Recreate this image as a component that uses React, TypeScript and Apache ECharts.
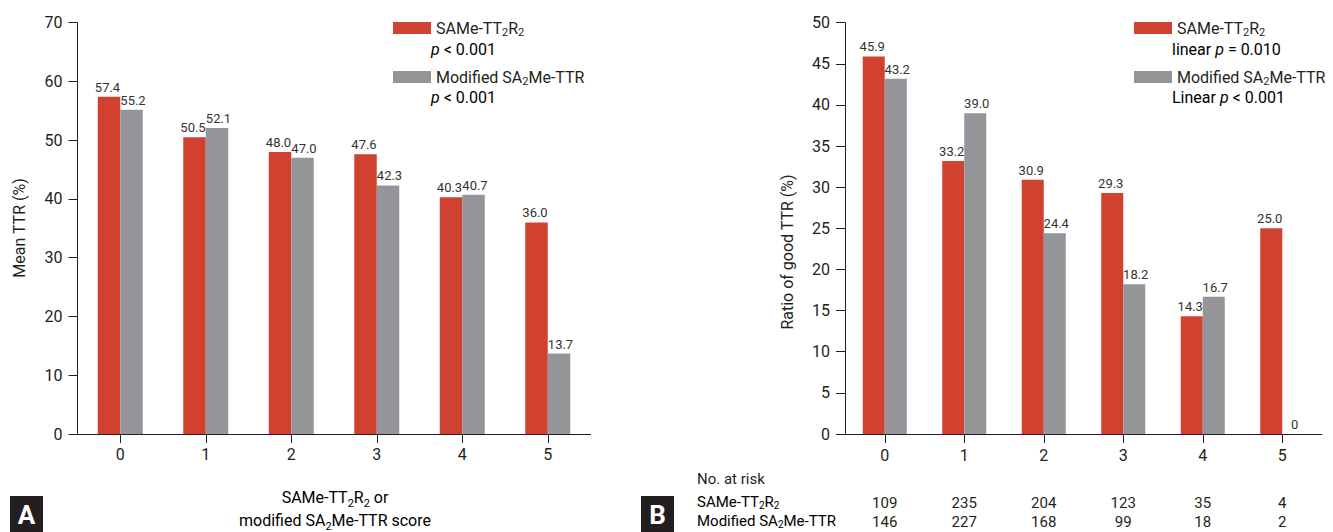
import React, { useEffect, useRef } from "react";
import * as echarts from "echarts";

const categories = ["0", "1", "2", "3", "4", "5"];
const meanSAMe = [57.4, 50.5, 48.0, 47.6, 40.3, 36.0];
const meanModified = [55.2, 52.1, 47.0, 42.3, 40.7, 13.7];
const goodSAMe = [45.9, 33.2, 30.9, 29.3, 14.3, 25.0];
const goodModified = [43.2, 39.0, 24.4, 18.2, 16.7, 0];
const riskSAMe = [109, 235, 204, 123, 35, 4];
const riskModified = [146, 227, 168, 99, 18, 2];
const seriesNames = ["SAMe-TT2R2", "Modified SA2Me-TTR"];

const RED = "#D1412F";
const GRAY = "#939598";
const INK = "#231F20";
const FONT = "Roboto, 'Noto Sans', sans-serif";

function richSet(size: number, lh: number) {
  return {
    a: { fontSize: size, fontFamily: FONT, color: INK, lineHeight: lh },
    s: { fontSize: Math.round(size * 0.68), fontFamily: FONT, color: INK, lineHeight: Math.round(size * 0.75), verticalAlign: "bottom" },
    i: { fontSize: size, fontFamily: FONT, color: INK, lineHeight: lh, fontStyle: "italic" },
  };
}
const richBase = richSet(16, 20);

const legendRich: Record<string, string> = {
  "SAMe-TT2R2": "{a|SAMe-TT}{s|2}{a|R}{s|2}",
  "Modified SA2Me-TTR": "{a|Modified SA}{s|2}{a|Me-TTR}",
};

function valueLabel(p: any) {
  const v = p.value as number;
  return v === 0 ? "0" : v.toFixed(1);
}

export default function App() {
  const ref = useRef<HTMLDivElement>(null);
  useEffect(() => {
    if (!ref.current) return;
    const chart = echarts.init(ref.current, undefined, { renderer: "svg" });

    const axisLine = { show: true, lineStyle: { color: INK, width: 1 } };
    const axisTick = { show: true, length: 9, lineStyle: { color: INK, width: 1 } };
    const yLabel = { fontSize: 16, fontFamily: FONT, color: INK, margin: 15 };

    const barLabel = (dx: number) => ({
      show: true,
      position: "top" as const,
      distance: 3,
      offset: [dx, 0],
      fontSize: 13,
      fontFamily: FONT,
      color: "#333",
      formatter: valueLabel,
    });

    const legendBase = {
      data: seriesNames,
      orient: "vertical" as const,
      top: 13,
      itemWidth: 38,
      itemHeight: 12,
      itemGap: 29,
      icon: "rect",
      selectedMode: false,
      formatter: (n: string) => legendRich[n],
      textStyle: { rich: richBase, lineHeight: 20, fontSize: 16 },
    };

    const tableRich = richSet(15, 18);

    const option: any = {
      animation: false,
      backgroundColor: "#fff",
      legend: [
        { ...legendBase, left: 388 },
        { ...legendBase, left: 1129 },
      ],
      grid: [
        { left: 77.5, top: 22.7, width: 513, bottom: 98, containLabel: false },
        { left: 845, top: 22.7, width: 477, bottom: 98, containLabel: false },
      ],
      xAxis: [
        {
          type: "category",
          gridIndex: 0,
          data: categories,
          axisLine,
          axisTick: { ...axisTick, alignWithLabel: true },
          axisLabel: { fontSize: 16, fontFamily: FONT, color: INK, margin: 12 },
        },
        {
          type: "category",
          gridIndex: 1,
          data: categories,
          axisLine,
          axisTick: { ...axisTick, alignWithLabel: true },
          axisLabel: {
            margin: 10,
            formatter: (v: string, i: number) =>
              `{t|${v}}\n{h| }\n{n|${riskSAMe[i]}}\n{m|${riskModified[i]}}`,
            rich: {
              t: { fontSize: 16, fontFamily: FONT, color: INK, lineHeight: 22 },
              h: { fontSize: 15, fontFamily: FONT, color: INK, lineHeight: 28 },
              n: { fontSize: 15, fontFamily: FONT, color: INK, lineHeight: 18 },
              m: { fontSize: 15, fontFamily: FONT, color: INK, lineHeight: 20 },
            },
          },
        },
      ],
      yAxis: [
        {
          type: "value",
          gridIndex: 0,
          min: 0,
          max: 70,
          interval: 10,
          axisLine,
          axisTick,
          splitLine: { show: false },
          axisLabel: yLabel,
        },
        {
          type: "value",
          gridIndex: 1,
          min: 0,
          max: 50,
          interval: 5,
          axisLine,
          axisTick,
          splitLine: { show: false },
          axisLabel: yLabel,
        },
      ],
      series: [
        {
          name: seriesNames[0],
          type: "bar",
          xAxisIndex: 0,
          yAxisIndex: 0,
          data: meanSAMe,
          barWidth: 22.5,
          barGap: "0%",
          itemStyle: { color: RED },
          label: barLabel(-1.5),
        },
        {
          name: seriesNames[1],
          type: "bar",
          xAxisIndex: 0,
          yAxisIndex: 0,
          data: meanModified,
          barWidth: 22.5,
          barGap: "0%",
          itemStyle: { color: GRAY },
          label: barLabel(1.5),
        },
        {
          name: seriesNames[0],
          type: "bar",
          xAxisIndex: 1,
          yAxisIndex: 1,
          data: goodSAMe,
          barWidth: 22,
          barGap: "0%",
          itemStyle: { color: RED },
          label: barLabel(-1.5),
        },
        {
          name: seriesNames[1],
          type: "bar",
          xAxisIndex: 1,
          yAxisIndex: 1,
          data: goodModified,
          barWidth: 22,
          barGap: "0%",
          itemStyle: { color: GRAY },
          label: barLabel(1.5),
        },
      ],
      graphic: [
        // p-value lines under legend names
        { type: "text", left: 431, top: 41, style: { text: "{i|p}{a| < 0.001}", rich: richBase } },
        { type: "text", left: 431, top: 89, style: { text: "{i|p}{a| < 0.001}", rich: richBase } },
        { type: "text", left: 1172, top: 41, style: { text: "{a|linear }{i|p}{a| = 0.010}", rich: richBase } },
        { type: "text", left: 1172, top: 89, style: { text: "{a|Linear }{i|p}{a| < 0.001}", rich: richBase } },
        // y-axis titles
        {
          type: "text",
          x: 19,
          y: 228,
          rotation: Math.PI / 2,
          style: { text: "Mean TTR (%)", fontSize: 16, fontFamily: FONT, fill: INK, align: "center", verticalAlign: "middle" },
        },
        {
          type: "text",
          x: 787,
          y: 252,
          rotation: Math.PI / 2,
          style: { text: "Ratio of good TTR (%)", fontSize: 16, fontFamily: FONT, fill: INK, align: "center", verticalAlign: "middle" },
        },
        // left x-axis title
        {
          type: "text",
          x: 335,
          y: 486,
          style: {
            text: "{a|SAMe-TT}{s|2}{a|R}{s|2}{a| or}\n{a|modified SA}{s|2}{a|Me-TTR score}",
            rich: richSet(16, 23),
            align: "center",
            verticalAlign: "top",
          },
        },
        // risk table row labels
        { type: "text", left: 697, top: 471, style: { text: "No. at risk", fontSize: 15, fontFamily: FONT, fill: INK } },
        {
          type: "text",
          left: 697,
          top: 494,
          style: { text: "{a|SAMe-TT}{s|2}{a|R}{s|2}", rich: tableRich },
        },
        {
          type: "text",
          left: 697,
          top: 513,
          style: { text: "{a|Modified SA}{s|2}{a|Me-TTR}", rich: tableRich },
        },
        // panel badges
        {
          type: "group",
          left: 10,
          top: 496,
          children: [
            { type: "rect", shape: { x: 0, y: 0, width: 33, height: 36 }, style: { fill: "#231F20" } },
            { type: "text", x: 16.5, y: 19, style: { text: "A", fontSize: 26, fontWeight: "bold", fontFamily: FONT, fill: "#fff", align: "center", verticalAlign: "middle" } },
          ],
        },
        {
          type: "group",
          left: 641,
          top: 496,
          children: [
            { type: "rect", shape: { x: 0, y: 0, width: 33, height: 36 }, style: { fill: "#231F20" } },
            { type: "text", x: 16.5, y: 19, style: { text: "B", fontSize: 26, fontWeight: "bold", fontFamily: FONT, fill: "#fff", align: "center", verticalAlign: "middle" } },
          ],
        },
      ],
    };

    chart.setOption(option);
    return () => chart.dispose();
  }, []);

  return <div ref={ref} style={{ width: 1333, height: 532, position: "absolute", left: 0, top: 0 }} />;
}
